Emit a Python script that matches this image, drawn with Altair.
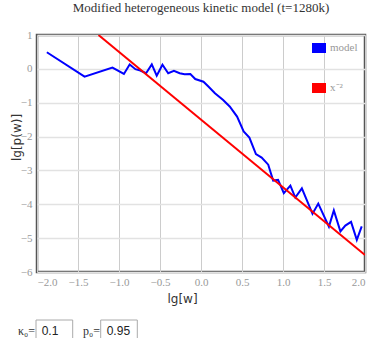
import altair as alt
import pandas as pd

# blue "model" series (lg w, lg p(w))
model_x = [-1.88, -1.42, -1.08, -0.94, -0.87, -0.80, -0.74, -0.67, -0.60, -0.54,
           -0.47, -0.40, -0.33, -0.26, -0.20, -0.13, -0.07, 0.03, 0.09, 0.17,
           0.27, 0.35, 0.44, 0.52, 0.59, 0.67, 0.74, 0.82, 0.88, 0.94,
           1.01, 1.09, 1.15, 1.23, 1.36, 1.43, 1.56, 1.62, 1.70, 1.76,
           1.83, 1.90, 1.96]
model_y = [0.49, -0.23, 0.04, -0.15, 0.13, -0.01, -0.05, -0.13, 0.13, -0.20,
           0.12, -0.13, -0.06, -0.13, -0.16, -0.15, -0.30, -0.38, -0.52, -0.72,
           -0.92, -1.11, -1.41, -1.85, -2.03, -2.52, -2.62, -2.83, -3.30, -3.28,
           -3.67, -3.45, -3.80, -3.53, -4.28, -3.98, -4.66, -4.18, -4.80, -4.63,
           -4.52, -5.05, -4.65]
# red reference line x^-2 (end points)
ref_x = [-1.25, 2.0]
ref_y = [1.0, -5.5]

series_names = ["model", "x⁻²"]
series_colors = ["#0000ff", "#ff0000"]

df = pd.concat([
    pd.DataFrame({"x": model_x, "y": model_y, "s": series_names[0], "o": range(len(model_x))}),
    pd.DataFrame({"x": ref_x, "y": ref_y, "s": series_names[1], "o": range(len(ref_x))}),
])

serif = "Liberation Serif"
sans = "DejaVu Sans"

base = alt.Chart(df)
x_enc = alt.X("x:Q", scale=alt.Scale(domain=[-2, 2], nice=False),
              axis=alt.Axis(title="lg[w]", values=[-2, -1.5, -1, -0.5, 0, 0.5, 1, 1.5, 2],
                            format=".1f", ticks=False, domain=False, gridColor="#ccc",
                            labelOverlap=False,
                            labelFont=serif, labelFontSize=11, labelColor="#999",
                            labelPadding=4, titleFont=sans, titleFontSize=12,
                            titleFontWeight="normal", titleColor="#333", titlePadding=6,
                            titleX=145, titleAlign="center"))
y_enc = alt.Y("y:Q", scale=alt.Scale(domain=[-6, 1], nice=False),
              axis=alt.Axis(title="lg[p(w)]", values=[-6, -5, -4, -3, -2, -1, 0, 1],
                            ticks=False, domain=False, gridColor="#e2e2e2", gridWidth=1.5,
                            labelOverlap=False,
                            labelFont=serif, labelFontSize=11, labelColor="#999",
                            labelPadding=5, titleFont=sans, titleFontSize=12,
                            titleFontWeight="normal", titleColor="#333",
                            titleX=-17, titleY=102, titleAlign="center",
                            titleBaseline="alphabetic", titleAngle=270))

lines = base.mark_line(strokeWidth=2, clip=True).encode(
    x=x_enc, y=y_enc,
    stroke=alt.Stroke("s:N", scale=alt.Scale(domain=series_names, range=series_colors),
                      legend=alt.Legend(title=None, orient="none", legendX=273, legendY=4,
                                        symbolType="M-1.75,0H1.75", symbolSize=64,
                                        symbolStrokeWidth=10,
                                        labelFont=serif, labelFontSize=11, labelColor="#999",
                                        labelOffset=2, rowPadding=0)),
    order="o:Q",
)

box_df = pd.DataFrame({"x": [-1, 63.7], "x2": [35.7, 100.3]})
boxes = alt.Chart(box_df).mark_rect(fill="white", stroke="#aaa", strokeWidth=1).encode(
    x=alt.X("x:Q", scale=None), x2="x2:Q", y=alt.value(285), y2=alt.value(304))

lab_df = pd.DataFrame({"x": [-2, 63], "t": ["κ₀=", "p₀="]})
labels = alt.Chart(lab_df).mark_text(align="right", baseline="middle", font=serif,
                                     fontSize=12, color="#333").encode(
    x=alt.X("x:Q", scale=None), y=alt.value(296), text="t:N")

val_df = pd.DataFrame({"x": [4.7, 69.7], "t": ["0.1", "0.95"]})
vals = alt.Chart(val_df).mark_text(align="left", baseline="middle", font="Liberation Sans",
                                   fontSize=12, color="#222").encode(
    x=alt.X("x:Q", scale=None), y=alt.value(296), text="t:N")

chart = alt.layer(lines, boxes, labels, vals).properties(
    width=328, height=237,
    autosize=alt.AutoSizeParams(type="none"),
    padding={"left": 37, "top": 35, "right": 6, "bottom": 66},
    title=alt.Title("Modified heterogeneous kinetic model (t=1280k)", font=serif,
                    fontSize=13, fontWeight="normal", color="#333", offset=14),
).configure_view(stroke="#555", strokeWidth=2.5)

chart.save("out.html", embed_options={"renderer": "svg", "actions": False})
